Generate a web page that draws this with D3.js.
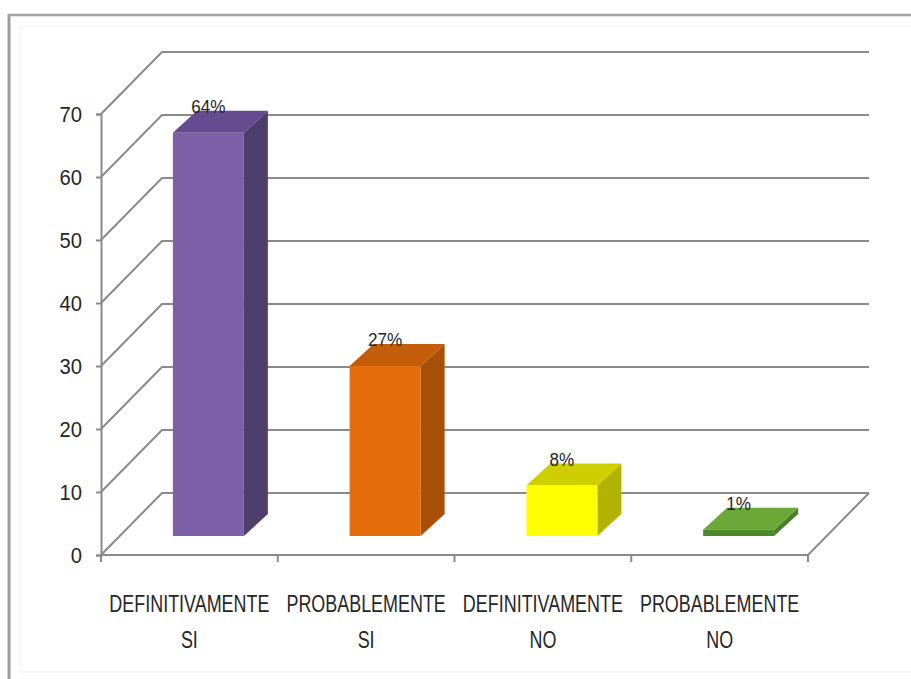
<!DOCTYPE html>
<html>
<head>
<meta charset="utf-8">
<script src="https://cdn.jsdelivr.net/npm/d3@7/dist/d3.min.js"></script>
<style>
  html, body { margin: 0; padding: 0; background: #fff; }
  svg { display: block; }
  text { font-family: "Liberation Sans", Arial, sans-serif; fill: #262626; }
</style>
</head>
<body>
<svg id="chart" width="911" height="679"></svg>
<script>
// Survey answers and their shares (percent)
const categories = ["DEFINITIVAMENTE SI", "PROBABLEMENTE SI", "DEFINITIVAMENTE NO", "PROBABLEMENTE NO"];
const values = [64, 27, 8, 1];
const valueLabels = ["64%", "27%", "8%", "1%"];
const yTicks = [0, 10, 20, 30, 40, 50, 60, 70];

// Face colours of each 3D column: front, top, side
const frontColors = ["#7e60a8", "#e46c0a", "#ffff00", "#4f8a2a"];
const topColors   = ["#654b8f", "#c45d09", "#cfcf00", "#6ca837"];
const sideColors  = ["#4f3e6c", "#a84f08", "#b2b200", "#4a7f26"];

const svg = d3.select("#chart");

// Outer frame
svg.append("rect").attr("x", 20).attr("y", 26).attr("width", 900).attr("height", 646)
  .attr("fill", "none").attr("stroke", "#f2f2f2").attr("stroke-width", 1);
svg.append("line").attr("x1", 9).attr("x2", 9).attr("y1", 14).attr("y2", 679)
  .attr("stroke", "#9c9c9c").attr("stroke-width", 3);
svg.append("line").attr("x1", 8).attr("x2", 911).attr("y1", 15).attr("y2", 15)
  .attr("stroke", "#a4a4a4").attr("stroke-width", 2.5);

// Scales for the front plane of the plot box
const y = d3.scaleLinear().domain([0, 70]).range([555, 114]);
const x = d3.scaleBand().domain(categories).range([101, 808]);

// Depth of the box (back wall offset) and the columns' depth placement
const depth = { dx: 61, dy: -62 };
const colFront = { dx: 19, dy: -19 };
const colDepth = { dx: 24, dy: -22 };
const colWidth = 71;
const gridColor = "#8a8a8a";

const xRight = x.range()[1];
const backRight = xRight + depth.dx;

// Side wall diagonals and back wall gridlines
const grid = svg.append("g");
yTicks.forEach(t => {
  const y0 = y(t);
  grid.append("path")
    .attr("d", `M${x.range()[0]},${y0} L${x.range()[0] + depth.dx},${y0 + depth.dy} L${backRight},${y0 + depth.dy}`)
    .attr("fill", "none").attr("stroke", gridColor).attr("stroke-width", 2);
});

// Floor front edge and right edge
grid.append("path")
  .attr("d", `M${x.range()[0]},${y(0)} L${xRight},${y(0)} L${backRight},${y(0) + depth.dy}`)
  .attr("fill", "none").attr("stroke", gridColor).attr("stroke-width", 2);

// Vertical axis with ticks and labels
const yAxis = d3.axisLeft(y).tickValues(yTicks).tickSize(5).tickPadding(18);
const yAxisG = svg.append("g").attr("transform", `translate(${x.range()[0]},0)`).call(yAxis);
yAxisG.select(".domain").attr("stroke", gridColor).attr("stroke-width", 2);
yAxisG.selectAll(".tick line").attr("stroke", gridColor).attr("stroke-width", 2);
yAxisG.selectAll(".tick text")
  .attr("x", null)
  .attr("transform", `translate(-19,0) scale(0.92,1)`)
  .attr("font-size", 22).attr("dy", "0.36em")
  .style("font-family", '"Liberation Sans", Arial, sans-serif')
  .attr("fill", "#262626");

// Horizontal axis category ticks
const xTickPos = categories.map(c => x(c)).concat([xRight]);
svg.append("g").selectAll("line").data(xTickPos).join("line")
  .attr("x1", d => d).attr("x2", d => d)
  .attr("y1", y(0)).attr("y2", y(0) + 7)
  .attr("stroke", gridColor).attr("stroke-width", 2);

// Category labels, two lines each (condensed)
const catG = svg.append("g");
categories.forEach(c => {
  const words = c.split(" ");
  const cx = x(c) + x.bandwidth() / 2;
  [[words[0], 612], [words.slice(1).join(" "), 648]].forEach(([txt, ty]) => {
    catG.append("text")
      .attr("transform", `translate(${cx},${ty}) scale(0.78,1)`)
      .attr("text-anchor", "middle").attr("font-size", 23)
      .text(txt);
  });
});

// 3D columns
const bars = svg.append("g");
categories.forEach((c, i) => {
  const cx = x(c) + x.bandwidth() / 2 + colFront.dx;
  const x0 = cx - colWidth / 2, x1 = cx + colWidth / 2;
  const yb = y(0) + colFront.dy;
  const yt = y(values[i]) + colFront.dy;
  const dx = colDepth.dx, dy = colDepth.dy;
  const g = bars.append("g");
  // side face
  g.append("path")
    .attr("d", `M${x1},${yt} L${x1 + dx},${yt + dy} L${x1 + dx},${yb + dy} L${x1},${yb} Z`)
    .attr("fill", sideColors[i]);
  // top face
  g.append("path")
    .attr("d", `M${x0},${yt} L${x0 + dx},${yt + dy} L${x1 + dx},${yt + dy} L${x1},${yt} Z`)
    .attr("fill", topColors[i]);
  // front face
  g.append("rect")
    .attr("x", x0).attr("y", yt).attr("width", colWidth).attr("height", yb - yt)
    .attr("fill", frontColors[i]);
  // value label
  g.append("text")
    .attr("transform", `translate(${cx},${yt + dy + 2}) scale(0.9,1)`)
    .attr("text-anchor", "middle").attr("font-size", 19)
    .text(valueLabels[i]);
});
</script>
</body>
</html>
